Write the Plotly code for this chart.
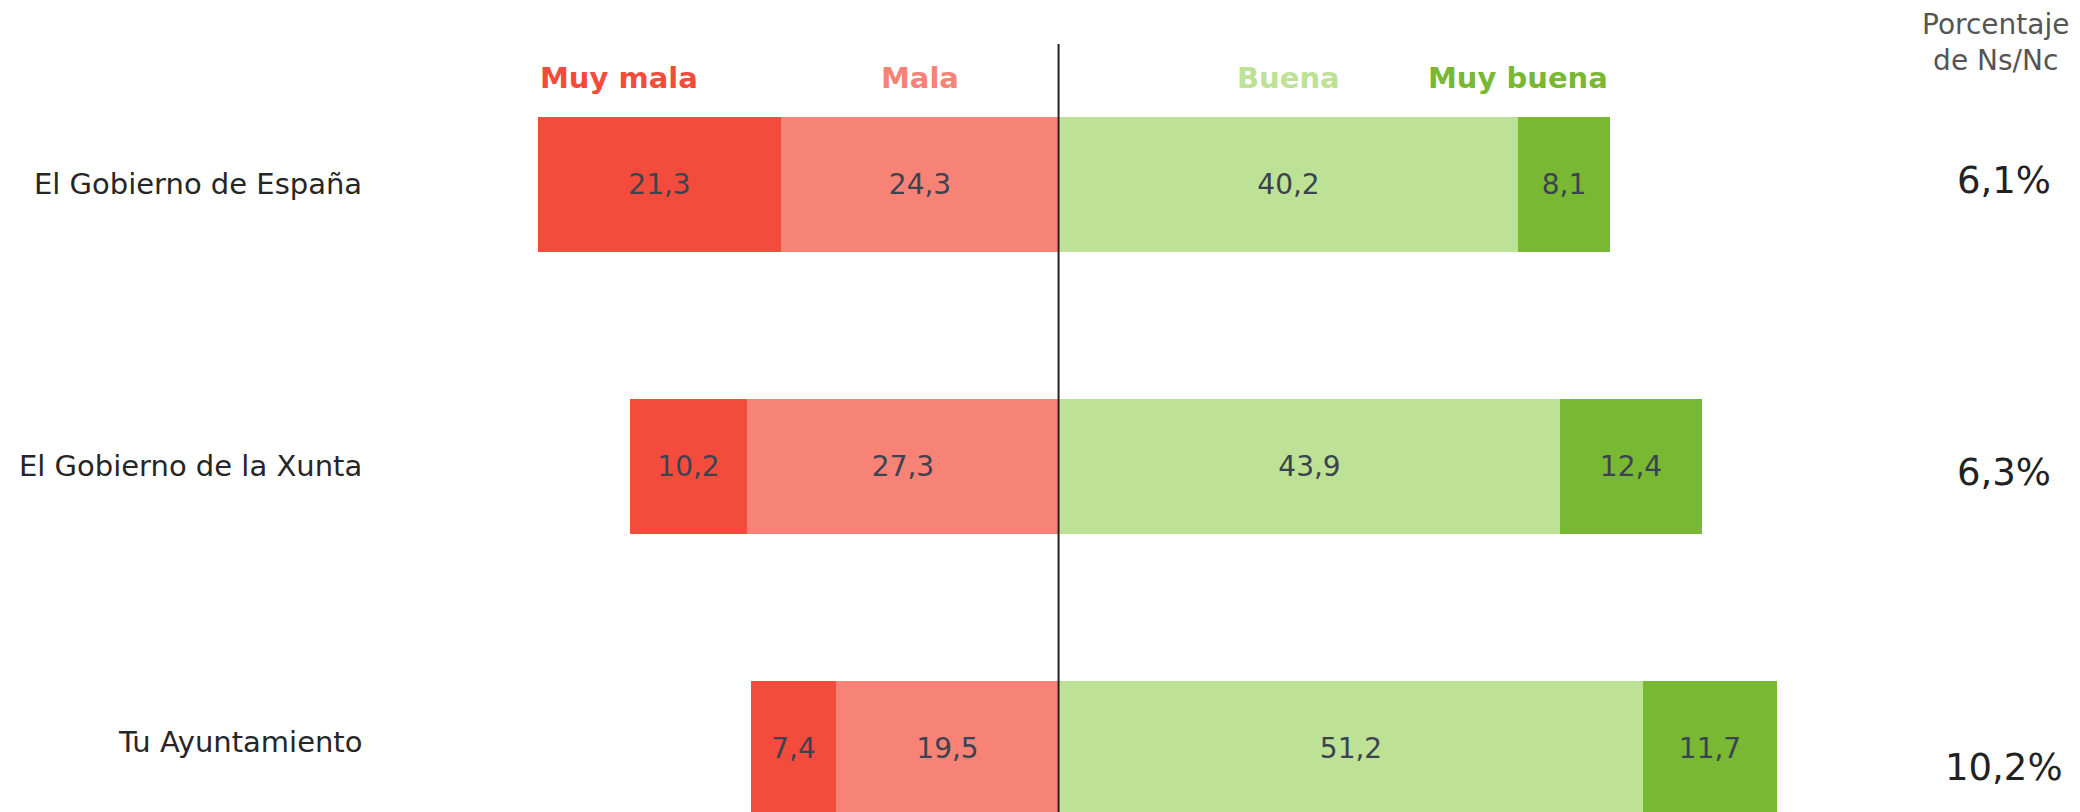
import plotly.graph_objects as go

categories = ["El Gobierno de España", "El Gobierno de la Xunta", "Tu Ayuntamiento"]
muy_mala = [21.3, 10.2, 7.4]
mala = [24.3, 27.3, 19.5]
buena = [40.2, 43.9, 51.2]
muy_buena = [8.1, 12.4, 11.7]
ns_nc = [6.1, 6.3, 10.2]

series_names = ["Muy mala", "Mala", "Buena", "Muy buena"]
colors = {"Muy mala": "#F44C3C", "Mala": "#F78276", "Buena": "#BDE295", "Muy buena": "#78B833"}

def fmt(v):
    return f"{v:.1f}".replace(".", ",")

ypos = list(range(len(categories)))
BAR_W = 0.48
VAL_FONT = dict(family="DejaVu Sans", size=28, color="#3c4350")

fig = go.Figure()
# left side: Mala adjacent to the centre, Muy mala outside
for name, vals, sign in [("Mala", mala, -1), ("Muy mala", muy_mala, -1),
                         ("Buena", buena, 1), ("Muy buena", muy_buena, 1)]:
    fig.add_trace(go.Bar(
        y=ypos, x=[sign * v for v in vals], orientation="h", name=name,
        width=BAR_W, marker=dict(color=colors[name], line=dict(width=0)),
        text=[fmt(v) for v in vals], textposition="inside",
        insidetextanchor="middle", constraintext="none",
        textfont=VAL_FONT, hoverinfo="skip", showlegend=False,
    ))

annotations = []
# category labels
for i, c in enumerate(categories):
    annotations.append(dict(x=-60.8, y=i, xref="x", yref="y", text=c, showarrow=False,
                            xanchor="right", yanchor="middle",
                            yshift=(6 if i == 2 else 0),
                            font=dict(family="DejaVu Sans", size=29, color="#262626")))
# Ns/Nc values
ns_shift = [4, -6, -19]
for i, v in enumerate(ns_nc):
    annotations.append(dict(x=82.8, y=i, xref="x", yref="y", text=fmt(v) + "%", showarrow=False,
                            xanchor="center", yanchor="middle", yshift=ns_shift[i],
                            font=dict(family="DejaVu Sans", size=37, color="#222222")))
annotations.append(dict(x=82.0, y=-0.503, xref="x", yref="y",
                        text="Porcentaje<br>de Ns/Nc", showarrow=False,
                        xanchor="center", yanchor="middle", align="center",
                        font=dict(family="DejaVu Sans", size=28, color="#555555")))

# series headers positioned from the first row
hy = -0.377
left_total = muy_mala[0] + mala[0]
right_total = buena[0] + muy_buena[0]
annotations.append(dict(x=-left_total, y=hy, text="<b>Muy mala</b>", showarrow=False, xanchor="left",
                        font=dict(family="DejaVu Sans", size=29, color=colors["Muy mala"])))
annotations.append(dict(x=-mala[0] / 2, y=hy, text="<b>Mala</b>", showarrow=False, xanchor="center",
                        font=dict(family="DejaVu Sans", size=29, color=colors["Mala"])))
annotations.append(dict(x=buena[0] / 2, y=hy, text="<b>Buena</b>", showarrow=False, xanchor="center",
                        font=dict(family="DejaVu Sans", size=29, color=colors["Buena"])))
annotations.append(dict(x=right_total, y=hy, text="<b>Muy buena</b>", showarrow=False, xanchor="right",
                        font=dict(family="DejaVu Sans", size=29, color=colors["Muy buena"])))

fig.update_layout(
    width=2072, height=804,
    margin=dict(l=0, r=0, t=0, b=0),
    paper_bgcolor="white", plot_bgcolor="white",
    barmode="relative", bargap=0,
    separators=",.",
    annotations=annotations,
    xaxis=dict(range=[-91.99, 89.44], visible=False, fixedrange=True),
    yaxis=dict(range=[2.2255, -0.6255], visible=False, fixedrange=True),
    shapes=[dict(type="line", xref="x", yref="y", x0=0, x1=0, y0=-0.498, y1=2.2255,
                 line=dict(color="#222222", width=2), layer="above")],
)

fig.write_html("out.html")
